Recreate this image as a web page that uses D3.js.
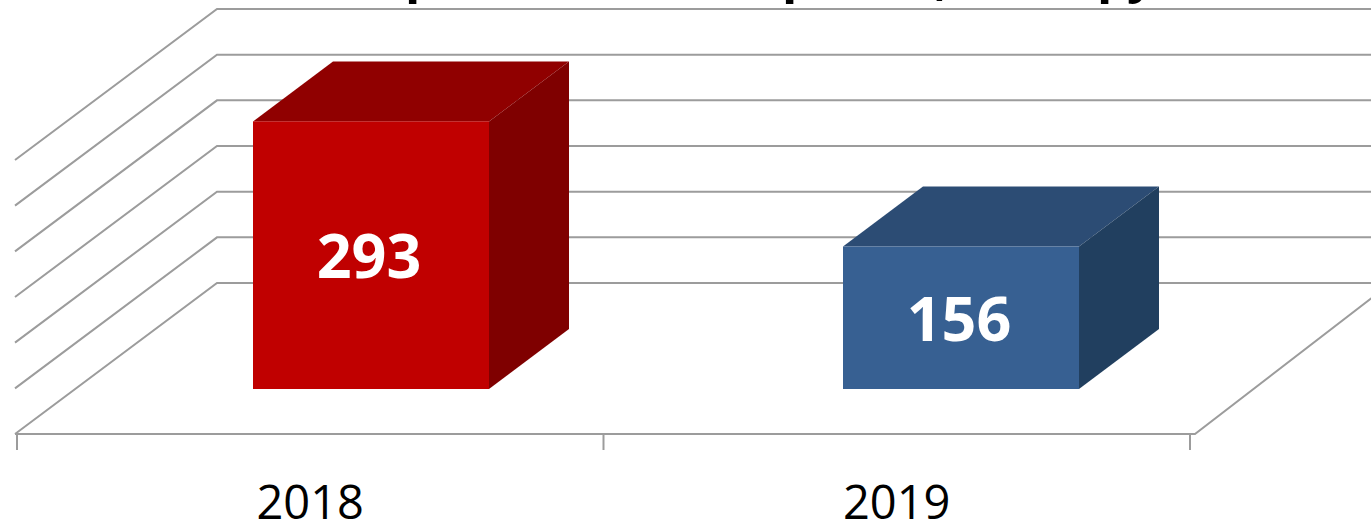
<!DOCTYPE html>
<html>
<head>
<meta charset="utf-8">
<script src="https://cdn.jsdelivr.net/npm/d3@7"></script>
<style>
  html, body { margin: 0; padding: 0; background: #fff; overflow: hidden; }
  svg { display: block; }
  text { font-family: "Open Sans", sans-serif; }
</style>
</head>
<body>
<div id="chart"></div>
<script>
const categories = ['2018', '2019'];
const values = [293, 156];
const yTicks = [0, 50, 100, 150, 200, 250, 300];
const faceColors = ['#C00000', '#376092'];
const topColors = ['#900000', '#2C4C74'];
const sideColors = ['#7F0000', '#213F5F'];
// The title is cut by the top edge: only these descenders are visible
const titleGlyphs = ['p', 'p', ',', 'p', 'y'];

const width = 1371;
const height = 522;

// Oblique projection: depth of the floor and depth of a bar, in px
const floorDepth = { dx: 202, dy: -151 };
const barOffset = { dx: 60, dy: -45 };
const barDepth = { dx: 80, dy: -60 };

const floorY = 434;
const floorLeft = 15;
const gridColor = '#9C9C9C';
const glyphX = [405, 782, 935, 1097, 1127];

const svg = d3.select('#chart')
  .append('svg')
  .attr('width', width)
  .attr('height', height);

// Value scale on the back wall
const wallY = d3.scaleLinear()
  .domain([0, 300])
  .range([floorY + floorDepth.dy, 9]);

// Value scale on the plane of the bars' front faces
const barBase = floorY + barOffset.dy;
const barY = d3.scaleLinear()
  .domain([0, 300])
  .range([barBase, barBase - (wallY(0) - wallY(300))]);

// Category scale of the axis along the floor edge
const xAxisScale = d3.scaleBand()
  .domain(categories)
  .range([17, 1190]);

// Category scale of the bars
const xBar = d3.scaleBand()
  .domain(categories)
  .range([76, 1256])
  .paddingInner(0.6)
  .paddingOuter(0.3);

// Clipped title
svg.append('g')
  .selectAll('text')
  .data(titleGlyphs)
  .enter()
  .append('text')
  .attr('x', (d, i) => glyphX[i])
  .attr('y', d => d === ',' ? -5 : -8)
  .attr('font-size', 50)
  .attr('font-weight', 700)
  .attr('fill', '#000')
  .text(d => d);

// Gridlines: side wall diagonal + back wall horizontal
svg.append('g')
  .selectAll('path')
  .data(yTicks)
  .enter()
  .append('path')
  .attr('fill', 'none')
  .attr('stroke', gridColor)
  .attr('stroke-width', 2)
  .attr('d', d => {
    const y = wallY(d);
    return `M${floorLeft},${y - floorDepth.dy}L${floorLeft + floorDepth.dx},${y}L${width},${y}`;
  });

// Floor front edge, right floor edge and ticks
const floor = svg.append('g')
  .attr('fill', 'none')
  .attr('stroke', gridColor)
  .attr('stroke-width', 2);

floor.append('path')
  .attr('d', `M${floorLeft},${floorY}L1195,${floorY}L${1195 + 200},${floorY - 154}`);

floor.selectAll('line')
  .data([17, xAxisScale('2019'), 1190])
  .enter()
  .append('line')
  .attr('x1', d => d)
  .attr('x2', d => d)
  .attr('y1', floorY)
  .attr('y2', floorY + 16);

// Bars
const bars = svg.append('g')
  .selectAll('g')
  .data(categories)
  .enter()
  .append('g');

bars.append('path')
  .attr('fill', (d, i) => topColors[i])
  .attr('d', (d, i) => {
    const x = xBar(d), w = xBar.bandwidth(), y = barY(values[i]);
    return `M${x},${y}L${x + barDepth.dx},${y + barDepth.dy}L${x + w + barDepth.dx},${y + barDepth.dy}L${x + w},${y}Z`;
  });

bars.append('path')
  .attr('fill', (d, i) => sideColors[i])
  .attr('d', (d, i) => {
    const x = xBar(d) + xBar.bandwidth(), y = barY(values[i]);
    return `M${x},${y}L${x + barDepth.dx},${y + barDepth.dy}L${x + barDepth.dx},${barBase + barDepth.dy}L${x},${barBase}Z`;
  });

bars.append('rect')
  .attr('x', d => xBar(d))
  .attr('y', (d, i) => barY(values[i]))
  .attr('width', xBar.bandwidth())
  .attr('height', (d, i) => barBase - barY(values[i]))
  .attr('fill', (d, i) => faceColors[i]);

// Value labels
bars.append('text')
  .attr('x', d => xBar(d) + xBar.bandwidth() / 2 - 2)
  .attr('y', (d, i) => (barY(values[i]) + barBase) / 2 + 23)
  .attr('text-anchor', 'middle')
  .attr('font-size', 61)
  .attr('font-weight', 700)
  .attr('fill', '#fff')
  .text((d, i) => values[i]);

// Category labels
svg.append('g')
  .selectAll('text')
  .data(categories)
  .enter()
  .append('text')
  .attr('x', d => xAxisScale(d) + xAxisScale.bandwidth() / 2)
  .attr('y', 519)
  .attr('text-anchor', 'middle')
  .attr('font-size', 47)
  .attr('fill', '#000')
  .text(d => d);
</script>
</body>
</html>
